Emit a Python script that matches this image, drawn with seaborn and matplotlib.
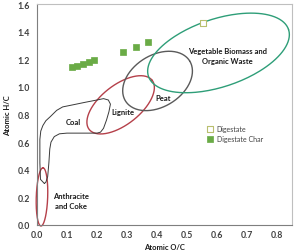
import numpy as np
import pandas as pd
import matplotlib
matplotlib.use('Agg')
import matplotlib.pyplot as plt
import seaborn as sns

# Measured samples (atomic O/C, atomic H/C)
DIGESTATE_OC = [0.555]
DIGESTATE_HC = [1.464]
CHAR_OC = [0.116, 0.133, 0.153, 0.173, 0.189, 0.286, 0.329, 0.370]
CHAR_HC = [1.145, 1.152, 1.167, 1.181, 1.196, 1.254, 1.290, 1.326]

# Van Krevelen fuel regions: centre, semi-axes (in O/C units), tilt in degrees
REGIONS = [
    ('Anthracite\nand Coke', (0.017, 0.203), 0.097, 0.019, 88, '#b5404a'),
    ('Lignite', (0.279, 0.870), 0.133, 0.066, 38, '#b5404a'),
    ('Peat', (0.402, 1.043), 0.126, 0.086, 32, '#5a5a5a'),
    ('Vegetable Biomass and\nOrganic Waste', (0.605, 1.246), 0.246, 0.113, 18.5, '#2e9e78'),
]
REGION_LABELS = {
    'Anthracite\nand Coke': (0.115, 0.18),
    'Lignite': (0.286, 0.82),
    'Peat': (0.42, 0.92),
    'Vegetable Biomass and\nOrganic Waste': (0.635, 1.225),
}

COAL_OC = [0.025, 0.012, 0.010, 0.010, 0.013, 0.020, 0.030, 0.045, 0.066, 0.086, 0.120,
           0.160, 0.200, 0.222, 0.238, 0.245, 0.240, 0.232, 0.222, 0.212, 0.200, 0.100,
           0.075, 0.058, 0.047, 0.043, 0.040, 0.036, 0.030, 0.025]
COAL_HC = [0.300, 0.330, 0.450, 0.620, 0.680, 0.720, 0.755, 0.785, 0.830, 0.855, 0.870,
           0.888, 0.905, 0.915, 0.905, 0.875, 0.820, 0.760, 0.700, 0.672, 0.665, 0.665,
           0.660, 0.640, 0.600, 0.550, 0.450, 0.350, 0.310, 0.300]

X_MAX, Y_MAX = 0.85, 1.6
X_TICKS = np.arange(0, 0.81, 0.1)
Y_TICKS = np.arange(0, 1.61, 0.2)

sns.set_theme(style='white')
plt.rcParams['font.family'] = ['Lato', 'DejaVu Sans']

fig = plt.figure(figsize=(2.95, 2.53), dpi=100)
ax = fig.add_axes([0.125, 0.107, 0.865, 0.873])
ax.set_xlim(0, X_MAX)
ax.set_ylim(0, Y_MAX)

# pixels per data unit, to draw tilted ellipses that look right on screen
sx = 0.865 * 295 / X_MAX
sy = 0.873 * 253 / Y_MAX

t = np.linspace(0, 2 * np.pi, 200)
for name, (cx, cy), a, b, ang, col in REGIONS:
    th = np.radians(ang)
    ap, bp = a * sx, b * sx
    dx = ap * np.cos(t) * np.cos(th) - bp * np.sin(t) * np.sin(th)
    dy = ap * np.cos(t) * np.sin(th) + bp * np.sin(t) * np.cos(th)
    ax.plot(cx + dx / sx, cy + dy / sy, color=col, linewidth=1.0, clip_on=False)
    lx, ly = REGION_LABELS[name]
    ax.text(lx, ly, name, ha='center', va='center', fontsize=5.5,
            fontweight='bold', color='#1a1a1a', linespacing=1.5)

ax.plot(COAL_OC, COAL_HC, color='#3a3a3a', linewidth=0.7)
ax.text(0.12, 0.746, 'Coal', ha='center', va='center', fontsize=5.5,
        fontweight='bold', color='#1a1a1a')

df_dig = pd.DataFrame({'oc': DIGESTATE_OC, 'hc': DIGESTATE_HC})
df_char = pd.DataFrame({'oc': CHAR_OC, 'hc': CHAR_HC})
sns.scatterplot(data=df_dig, x='oc', y='hc', marker='s', s=16, color='white',
                edgecolor='#b9bf6e', linewidth=0.8, label='Digestate', ax=ax, zorder=3)
sns.scatterplot(data=df_char, x='oc', y='hc', marker='s', s=16, color='#6aab46',
                edgecolor='#6aab46', linewidth=0.5, label='Digestate Char', ax=ax, zorder=3)

leg = ax.legend(loc='upper left', bbox_to_anchor=(0.65, 0.47), frameon=False,
                fontsize=5, handletextpad=0.3, labelspacing=0.45, borderpad=0,
                handlelength=1.2)
for txt in leg.get_texts():
    txt.set_color('#404040')

ax.set_xticks(X_TICKS)
ax.set_yticks(Y_TICKS)
ax.set_xticklabels([f'{v:.1f}' for v in X_TICKS])
ax.set_yticklabels([f'{v:.1f}' for v in Y_TICKS])
ax.tick_params(axis='both', labelsize=6.3, colors='#404040', length=2, width=0.6,
               pad=3)
ax.tick_params(axis='x', direction='in', pad=3.5)
ax.tick_params(axis='y', direction='out')
for lab in ax.get_xticklabels() + ax.get_yticklabels():
    lab.set_fontweight('bold')

ax.set_xlabel('Atomic O/C', fontsize=5.5, fontweight='bold', color='#1a1a1a', labelpad=3)
ax.set_ylabel('Atomic H/C', fontsize=5.5, fontweight='bold', color='#1a1a1a', labelpad=5)

for side in ['left', 'bottom']:
    ax.spines[side].set_color('#7f7f7f')
    ax.spines[side].set_linewidth(0.8)
for side in ['top', 'right']:
    ax.spines[side].set_color('#bfbfbf')
    ax.spines[side].set_linewidth(0.8)

fig.savefig('out.png', dpi=100)
plt.close(fig)
